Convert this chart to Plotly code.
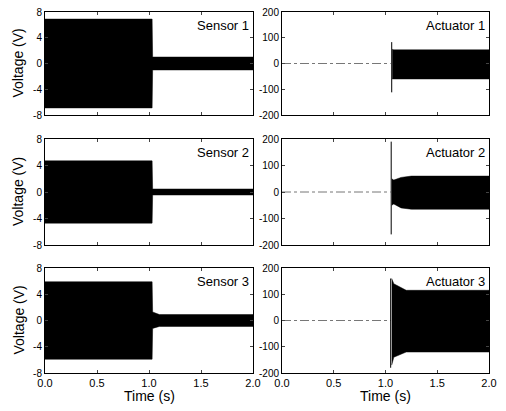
import plotly.graph_objects as go

# ---- data (envelopes) ----
time_ticks = [0.0, 0.5, 1.0, 1.5, 2.0]
time_tick_labels = ["0.0", "0.5", "1.0", "1.5", "2.0"]
sensor_ticks = [-8, -4, 0, 4, 8]
actuator_ticks = [-200, -100, 0, 100, 200]

sensor_names = ["Sensor 1", "Sensor 2", "Sensor 3"]
actuator_names = ["Actuator 1", "Actuator 2", "Actuator 3"]

s1_t = [0.0, 1.03, 1.035, 2.0]
s1_up = [6.9, 6.9, 1.0, 1.0]
s1_lo = [-6.9, -6.9, -1.0, -1.0]

s2_t = [0.0, 1.03, 1.035, 2.0]
s2_up = [4.7, 4.7, 0.45, 0.45]
s2_lo = [-4.7, -4.7, -0.45, -0.45]

s3_t = [0.0, 1.03, 1.035, 1.1, 2.0]
s3_up = [5.9, 5.9, 1.3, 0.9, 0.9]
s3_lo = [-5.9, -5.9, -1.2, -0.9, -0.9]

a_base_t = [0.0, 1.05]
a_base_v = [0.0, 0.0]

a1_spike_t = [1.06, 1.06]
a1_spike_v = [-112, 83]
a1_t = [1.065, 1.08, 2.0]
a1_up = [55, 53, 53]
a1_lo = [-60, -60, -60]

a2_spike_t = [1.055, 1.055]
a2_spike_v = [-160, 190]
a2_t = [1.06, 1.08, 1.15, 1.25, 2.0]
a2_up = [50, 45, 55, 60, 60]
a2_lo = [-50, -45, -60, -65, -65]

a3_spike_t = [1.05, 1.05]
a3_spike_v = [-180, 160]
a3_t = [1.06, 1.08, 1.2, 2.0]
a3_up = [160, 140, 115, 115]
a3_lo = [-170, -140, -120, -120]

sensors = [(s1_t, s1_up, s1_lo), (s2_t, s2_up, s2_lo), (s3_t, s3_up, s3_lo)]
actuators = [(a1_spike_t, a1_spike_v, a1_t, a1_up, a1_lo),
             (a2_spike_t, a2_spike_v, a2_t, a2_up, a2_lo),
             (a3_spike_t, a3_spike_v, a3_t, a3_up, a3_lo)]

W, H = 506, 411
left_dom = [45 / W, 253 / W]
right_dom = [282 / W, 489 / W]
rows_px = [(12, 115), (139, 245), (268, 373)]
row_dom = [[1 - b / H, 1 - t / H] for t, b in rows_px]

fig = go.Figure()
FONT = "Arial, Liberation Sans, sans-serif"


def band(t, up, lo, xa, ya):
    xs = list(t) + list(t)[::-1]
    ys = list(up) + list(lo)[::-1]
    fig.add_trace(go.Scatter(x=xs, y=ys, fill="toself", fillcolor="black",
                             mode="lines", line=dict(color="black", width=0.5),
                             xaxis=xa, yaxis=ya, showlegend=False, hoverinfo="skip"))


layout = dict(width=W, height=H, margin=dict(l=0, r=0, t=0, b=0, autoexpand=False),
              paper_bgcolor="white", plot_bgcolor="white", showlegend=False,
              font=dict(family=FONT, color="black"))
annotations = []

for r in range(3):
    i_s = 2 * r + 1
    i_a = 2 * r + 2
    for i, dom, ticks, rng in [(i_s, left_dom, sensor_ticks, [-8, 8]),
                               (i_a, right_dom, actuator_ticks, [-200, 200])]:
        xk = "xaxis" if i == 1 else f"xaxis{i}"
        yk = "yaxis" if i == 1 else f"yaxis{i}"
        layout[xk] = dict(domain=dom, anchor=f"y{i if i > 1 else ''}", range=[0, 2],
                          tickvals=time_ticks, ticktext=time_tick_labels,
                          showticklabels=(r == 2), ticks="inside", ticklen=3,
                          showline=True, linecolor="black", linewidth=1, mirror="ticks",
                          showgrid=False, zeroline=False, automargin=False,
                          tickfont=dict(size=11, family=FONT, color="black"))
        layout[yk] = dict(domain=row_dom[r], anchor=f"x{i if i > 1 else ''}", range=rng,
                          tickvals=ticks, ticktext=[str(v) for v in ticks],
                          ticks="inside", ticklen=3,
                          showline=True, linecolor="black", linewidth=1, mirror="ticks",
                          showgrid=False, zeroline=False, automargin=False,
                          tickfont=dict(size=10, family=FONT, color="black"))
    st, su, sl = sensors[r]
    band(st, su, sl, f"x{i_s if i_s > 1 else ''}", f"y{i_s if i_s > 1 else ''}")
    sp_t, sp_v, at, au, al = actuators[r]
    xa, ya = f"x{i_a}", f"y{i_a}"
    fig.add_trace(go.Scatter(x=a_base_t, y=a_base_v, mode="lines",
                             line=dict(color="#777777", width=1, dash="dashdot"),
                             xaxis=xa, yaxis=ya, showlegend=False, hoverinfo="skip"))
    fig.add_trace(go.Scatter(x=sp_t, y=sp_v, mode="lines",
                             line=dict(color="black", width=1),
                             xaxis=xa, yaxis=ya, showlegend=False, hoverinfo="skip"))
    band(at, au, al, xa, ya)

    annotations.append(dict(text=sensor_names[r], x=left_dom[1] - 2 / W,
                            y=row_dom[r][1] - 4 / H, xref="paper", yref="paper",
                            xanchor="right", yanchor="top", showarrow=False,
                            font=dict(size=13, family=FONT, color="black")))
    annotations.append(dict(text=actuator_names[r], x=right_dom[1] - 2 / W,
                            y=row_dom[r][1] - 4 / H, xref="paper", yref="paper",
                            xanchor="right", yanchor="top", showarrow=False,
                            font=dict(size=13, family=FONT, color="black")))
    annotations.append(dict(text="Voltage (V)", x=18 / W,
                            y=(row_dom[r][0] + row_dom[r][1]) / 2,
                            xref="paper", yref="paper", textangle=-90,
                            xanchor="center", yanchor="middle", showarrow=False,
                            font=dict(size=14, family=FONT, color="black")))

for dom in (left_dom, right_dom):
    annotations.append(dict(text="Time (s)", x=(dom[0] + dom[1]) / 2, y=1 - 396 / H,
                            xref="paper", yref="paper", xanchor="center", yanchor="middle",
                            showarrow=False, font=dict(size=14, family=FONT, color="black")))

layout["annotations"] = annotations
fig.update_layout(**layout)
fig.write_html("out.html", config={"displayModeBar": False},
               post_script="document.body.style.margin='0px';document.body.style.overflow='hidden';")
